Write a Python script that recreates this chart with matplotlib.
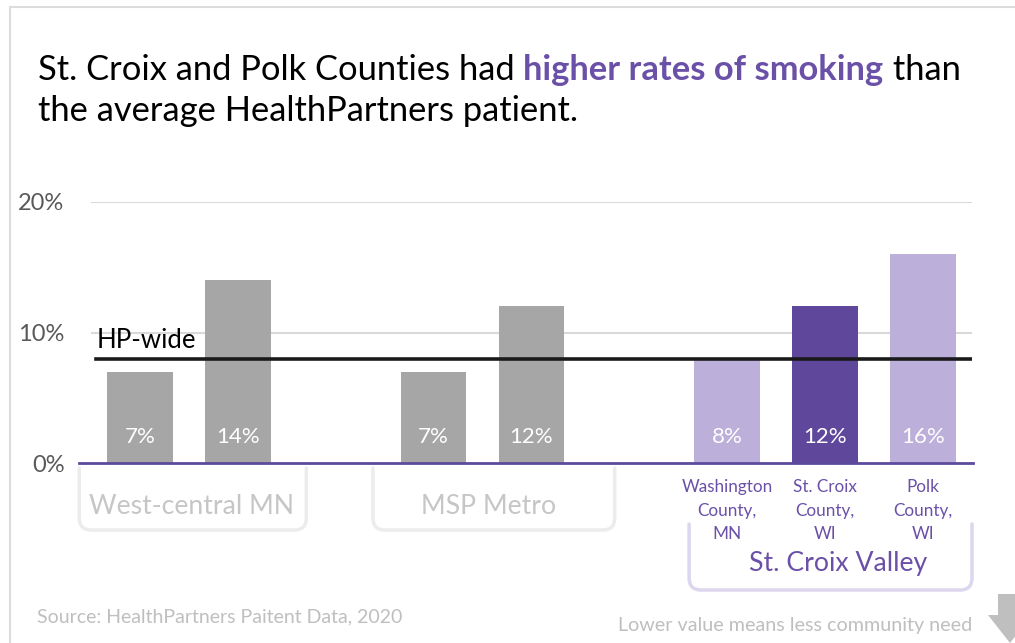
import matplotlib
matplotlib.use("Agg")
import matplotlib.pyplot as plt
from matplotlib.path import Path
from matplotlib.patches import PathPatch, Polygon
from matplotlib.transforms import Affine2D, blended_transform_factory

plt.rcParams["font.family"] = ["Lato", "DejaVu Sans"]

# data
groups = ["West-central MN", "MSP Metro", "St. Croix Valley"]
group_members = [2, 2, 3]
values = [7, 14, 7, 12, 8, 12, 16]
value_labels = ["7%", "14%", "7%", "12%", "8%", "12%", "16%"]
county_labels = ["Washington\nCounty,\nMN", "St. Croix\nCounty,\nWI", "Polk\nCounty,\nWI"]
hp_wide = 8
yticks = [0, 10, 20]
ytick_labels = ["0%", "10%", "20%"]

GREY = "#a6a6a6"
LIGHT_PURPLE = "#bcafd9"
DARK_PURPLE = "#5f489c"
TEXT_PURPLE = "#6a50a7"
colors = [GREY, GREY, GREY, GREY, LIGHT_PURPLE, DARK_PURPLE, LIGHT_PURPLE]

W, H = 1015, 643
fig = plt.figure(figsize=(W / 100, H / 100), dpi=100)
# pixel coords of the reference (origin top-left)
px = Affine2D().scale(1 / W, -1 / H).translate(0, 1) + fig.transFigure

ax = fig.add_axes([91 / W, 1 - 463 / H, (972 - 91) / W, (463 - 202) / H])

# x positions: groups separated by one empty slot
xs = []
pos = 0
for n in group_members:
    xs.extend(range(pos, pos + n))
    pos += n + 1

ax.bar(xs, values, width=0.67, color=colors, zorder=2)
for x, lab in zip(xs, value_labels):
    ax.text(x, 2.0, lab, ha="center", va="center", color="white", fontsize=16, zorder=4)

ax.set_xlim(-0.5, 8.5)
ax.set_ylim(0, 20)
ax.set_yticks(yticks)
ax.set_yticklabels(ytick_labels, fontsize=17, color="#595959")
ax.tick_params(axis="y", length=0, pad=19)
ax.set_xticks([])
for s in ax.spines.values():
    s.set_visible(False)
for t in yticks[1:]:
    ax.axhline(t, color="#d9d9d9", lw=1.5, zorder=0)
# purple baseline
ax.plot([-0.62, 8.51], [0, 0], color="#5c4a9c", lw=2, clip_on=False, zorder=3)

# HP-wide line
ax.plot([-0.45, 8.5], [hp_wide, hp_wide], color="#1a1a1a", lw=2.6, zorder=3)
ax.text(-0.44, hp_wide + 0.45, "HP-wide", fontsize=18.5, color="black", va="bottom", ha="left")

# county labels
stc = xs[4:]
for x, lab in zip(stc, county_labels):
    ax.text(x, -3.65, lab, ha="center", va="center", color=TEXT_PURPLE, fontsize=12.3,
            linespacing=1.55)

# brackets (x in data, y in reference pixels)
bt = blended_transform_factory(ax.transData, px)


def bracket(x0, x1, top, bottom, color, r=12):
    rx = r / 98.0
    verts = [(x0, top), (x0, bottom - r), (x0, bottom), (x0 + rx, bottom),
             (x1 - rx, bottom), (x1, bottom), (x1, bottom - r), (x1, top)]
    codes = [Path.MOVETO, Path.LINETO, Path.CURVE3, Path.CURVE3,
             Path.LINETO, Path.CURVE3, Path.CURVE3, Path.LINETO]
    fig.add_artist(PathPatch(Path(verts, codes), transform=bt, fill=False,
                             edgecolor=color, lw=2.5, capstyle="round"))


start = 0
label_colors = ["#c6c6c6", "#c6c6c6", TEXT_PURPLE]
bracket_colors = ["#ececec", "#ececec", "#dcd6ee"]
for gi, n in enumerate(group_members):
    first, last = xs[start], xs[start + n - 1]
    mid = (first + last) / 2
    if gi < 2:
        bracket(first - 0.62, last + 0.7 + 0.15 * gi, 468, 530, bracket_colors[gi])
        fig.text(mid + 0.03 + 0.03 * gi, 506, groups[gi], transform=bt, ha="center",
                 va="center", fontsize=19.2, color=label_colors[gi])
    else:
        bracket(first - 0.39, last + 0.5, 524, 590, bracket_colors[gi])
        fig.text(mid + 0.13, 563, groups[gi], transform=bt, ha="center", va="center",
                 fontsize=19.2, color=label_colors[gi])
    start += n

# frame lines of the slide
fig.add_artist(plt.Line2D([10, 10], [7, H], transform=px, color="#dcdcdc", lw=1.5))
fig.add_artist(plt.Line2D([10, W], [7, 7], transform=px, color="#dcdcdc", lw=1.5))

# title with highlighted part
title_parts = [("St. Croix and Polk Counties had ", "black", "normal"),
               ("higher rates of smoking", TEXT_PURPLE, "bold"),
               (" than", "black", "normal")]
fig.canvas.draw()
renderer = fig.canvas.get_renderer()
xcur = 38
for txt, col, wt in title_parts:
    t = fig.text(xcur, 80, txt, transform=px, fontsize=24.8, color=col, fontweight=wt,
                 va="baseline", ha="left")
    bb = t.get_window_extent(renderer)
    xcur += bb.width
fig.text(38, 121, "the average HealthPartners patient.", transform=px, fontsize=24.8,
         color="black", va="baseline", ha="left")

# footer
fig.text(37, 617, "Source: HealthPartners Paitent Data, 2020", transform=px, fontsize=14,
         color="#bfbfbf", va="center", ha="left")
fig.text(972, 625, "Lower value means less community need", transform=px, fontsize=14.2,
         color="#bfbfbf", va="center", ha="right")
arrow = [(998, 594), (1022, 594), (1022, 615), (1032, 615), (1010, 643), (988, 615), (998, 615)]
fig.add_artist(Polygon(arrow, closed=True, transform=px, color="#bfbfbf", lw=0))

fig.savefig("out.png", dpi=100)
